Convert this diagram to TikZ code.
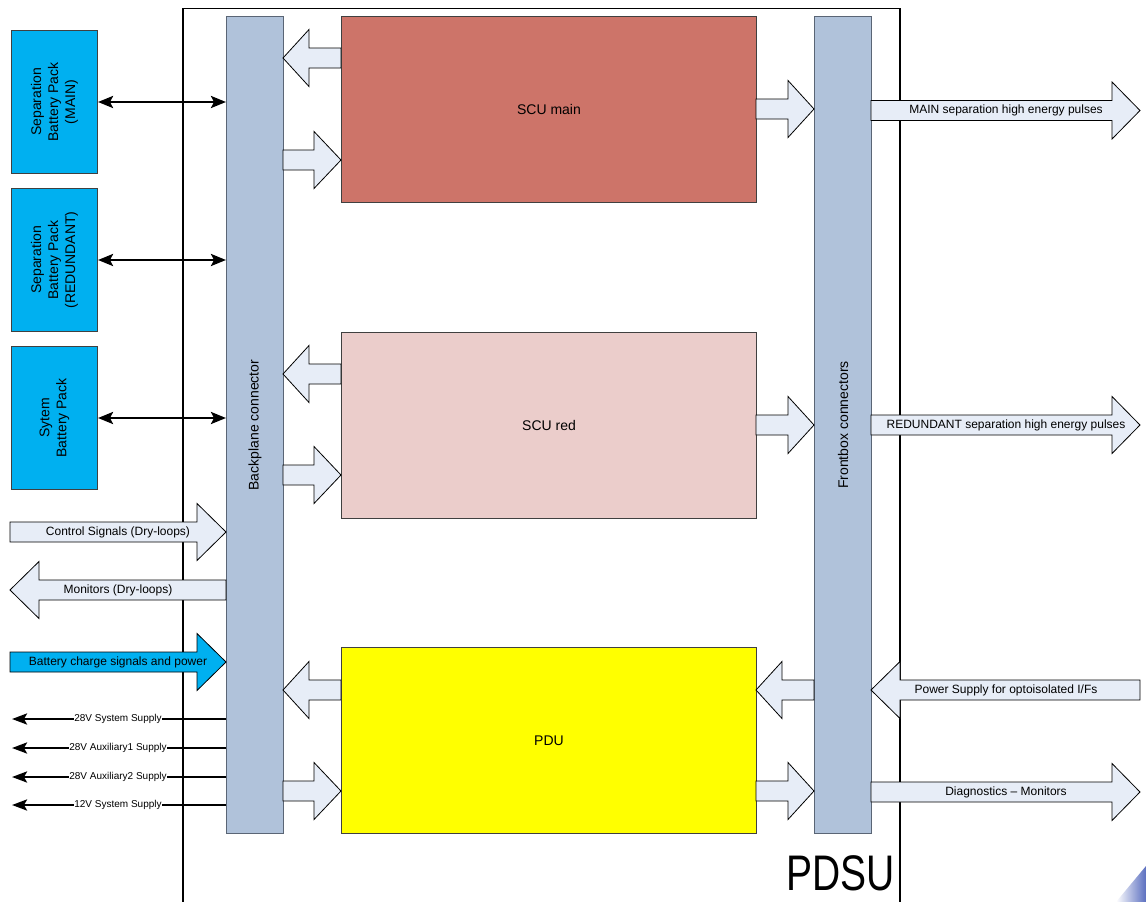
\documentclass[tikz,border=0pt]{standalone}
\usepackage{fontspec}
\usepackage{graphicx}
\setmainfont{Liberation Sans}
\usetikzlibrary{arrows.meta}
\definecolor{barfill}{HTML}{B0C2DA}
\definecolor{barline}{HTML}{5A6575}
\definecolor{batfill}{HTML}{00B0F0}
\definecolor{scumain}{HTML}{CD7469}
\definecolor{scured}{HTML}{EBCDCB}
\definecolor{pdufill}{HTML}{FFFF00}
\definecolor{afill}{HTML}{E7EDF7}
\definecolor{blobc}{HTML}{5B6FC0}
\newcommand{\rblk}[5]{%
  \filldraw[blk, fill=#5] (#1,#3-10) -- (#2-#4,#3-10) -- (#2-#4,#3-28.5) -- (#2,#3)
    -- (#2-#4,#3+28.5) -- (#2-#4,#3+10) -- (#1,#3+10) -- cycle;}
\newcommand{\lblk}[5]{%
  \filldraw[blk, fill=#5] (#1,#3-10) -- (#2+#4,#3-10) -- (#2+#4,#3-28.5) -- (#2,#3)
    -- (#2+#4,#3+28.5) -- (#2+#4,#3+10) -- (#1,#3+10) -- cycle;}
\begin{document}
\begin{tikzpicture}[x=1pt,y=-1pt,
  blk/.style={draw=black, line width=0.8pt},
  bar/.style={draw=barline, fill=barfill, line width=1pt, anchor=north west, inner sep=0, minimum width=57, minimum height=817},
  bat/.style={draw=black!75, fill=batfill, line width=1pt, anchor=north west, inner sep=0, minimum width=86, minimum height=143},
  scu/.style={draw=black!75, line width=1pt, anchor=north west, inner sep=0, minimum width=415, minimum height=186},
  boxlbl/.style={font=\fontsize{14}{17}\selectfont, align=center, inner sep=0},
  albl/.style={font=\fontsize{12}{14}\selectfont, inner sep=0},
  slbl/.style={font=\fontsize{10}{12}\selectfont, fill=white, inner sep=0.6pt},
  dbl/.style={line width=2.6pt, {Stealth[length=15pt,width=12pt,inset=3pt]}-{Stealth[length=15pt,width=12pt,inset=3pt]}},
  sup/.style={line width=2.6pt, -{Stealth[length=15pt,width=11pt,inset=3pt]}}
]
\useasboundingbox (0,0) rectangle (1146,902);
% PDSU frame
\draw[line width=1.6pt] (183,903) -- (183,8.5) -- (900,8.5) -- (900,903);
\node[anchor=south east, inner sep=0] (pdsu) at (895,891) {\fontsize{50}{50}\selectfont\scalebox{0.78}[1]{PDSU}};
% corner blob
\shade[left color=white, right color=blobc] (1116,902) -- (1146,866) -- (1146,902) -- cycle;
% bars
\node[bar] (bp) at (226,16) {};
\node[bar] (fb) at (814,16) {};
\node[boxlbl, rotate=90] (bpl) at (bp.center) {Backplane connector};
\node[boxlbl, rotate=90] (fbl) at (fb.center) {Frontbox connectors};
% SCU / PDU
\node[scu, fill=scumain] (scum) at (341,16) {};
\node[scu, fill=scured] (scur) at (341,332) {};
\node[scu, fill=pdufill] (pdu) at (341,647) {};
\node[boxlbl] (scuml) at (scum.center) {SCU main};
\node[boxlbl] (scurl) at (scur.center) {SCU red};
\node[boxlbl] (pdul) at (pdu.center) {PDU};
% battery packs
\node[bat] (bat1) at (11,30) {};
\node[bat] (bat2) at (11,188) {};
\node[bat] (bat3) at (11,346) {};
\node[boxlbl, rotate=90] (bat1l) at (bat1.center) {Separation\\Battery Pack\\(MAIN)};
\node[boxlbl, rotate=90] (bat2l) at (bat2.center) {Separation\\Battery Pack\\(REDUNDANT)};
\node[boxlbl, rotate=90] (bat3l) at (bat3.center) {Sytem\\Battery Pack};
\draw[dbl] (bat1.east) -- (bat1.east -| bp.west);
\draw[dbl] (bat2.east) -- (bat2.east -| bp.west);
\draw[dbl] (bat3.east) -- (bat3.east -| bp.west);
% block arrows: SCU main
\lblk{341}{283}{58}{26}{afill}
\rblk{283}{341}{160}{27}{afill}
\rblk{756}{814}{109}{26}{afill}
\rblk{871}{1140}{110.5}{28}{afill}
% SCU red
\lblk{341}{283}{374}{26}{afill}
\rblk{283}{341}{475}{27}{afill}
\rblk{756}{814}{425}{26}{afill}
\rblk{871}{1140}{425}{28}{afill}
% left side signals
\rblk{10}{226}{532}{29}{afill}
\lblk{226}{10}{590}{29}{afill}
\rblk{10}{226}{662}{29}{batfill}
% PDU
\lblk{341}{283}{690}{26}{afill}
\lblk{814}{756}{690}{26}{afill}
\lblk{1140}{871}{690}{29}{afill}
\rblk{283}{341}{791}{27}{afill}
\rblk{756}{814}{791}{26}{afill}
\rblk{871}{1140}{792}{28}{afill}
% arrow labels
\node[albl] (a1) at (1006,110.5) {MAIN separation high energy pulses};
\node[albl] (a2) at (1006,425) {REDUNDANT separation high energy pulses};
\node[albl] (a3) at (1006,690) {Power Supply for optoisolated I/Fs};
\node[albl] (a4) at (1006,792) {Diagnostics -- Monitors};
\node[albl] (a5) at (118,532) {Control Signals (Dry-loops)};
\node[albl] (a6) at (118,590) {Monitors (Dry-loops)};
\node[albl] (a7) at (118,662) {Battery charge signals and power};
% supply lines
\coordinate (s1) at (12,719);
\coordinate (s2) at (12,748);
\coordinate (s3) at (12,777);
\coordinate (s4) at (12,805);
\draw[sup] (s1 -| bp.west) -- (s1);
\draw[sup] (s2 -| bp.west) -- (s2);
\draw[sup] (s3 -| bp.west) -- (s3);
\draw[sup] (s4 -| bp.west) -- (s4);
\node[slbl] (l1) at (118,719) {28V System Supply};
\node[slbl] (l2) at (118,748) {28V Auxiliary1 Supply};
\node[slbl] (l3) at (118,777) {28V Auxiliary2 Supply};
\node[slbl] (l4) at (118,805) {12V System Supply};
\end{tikzpicture}
\end{document}
